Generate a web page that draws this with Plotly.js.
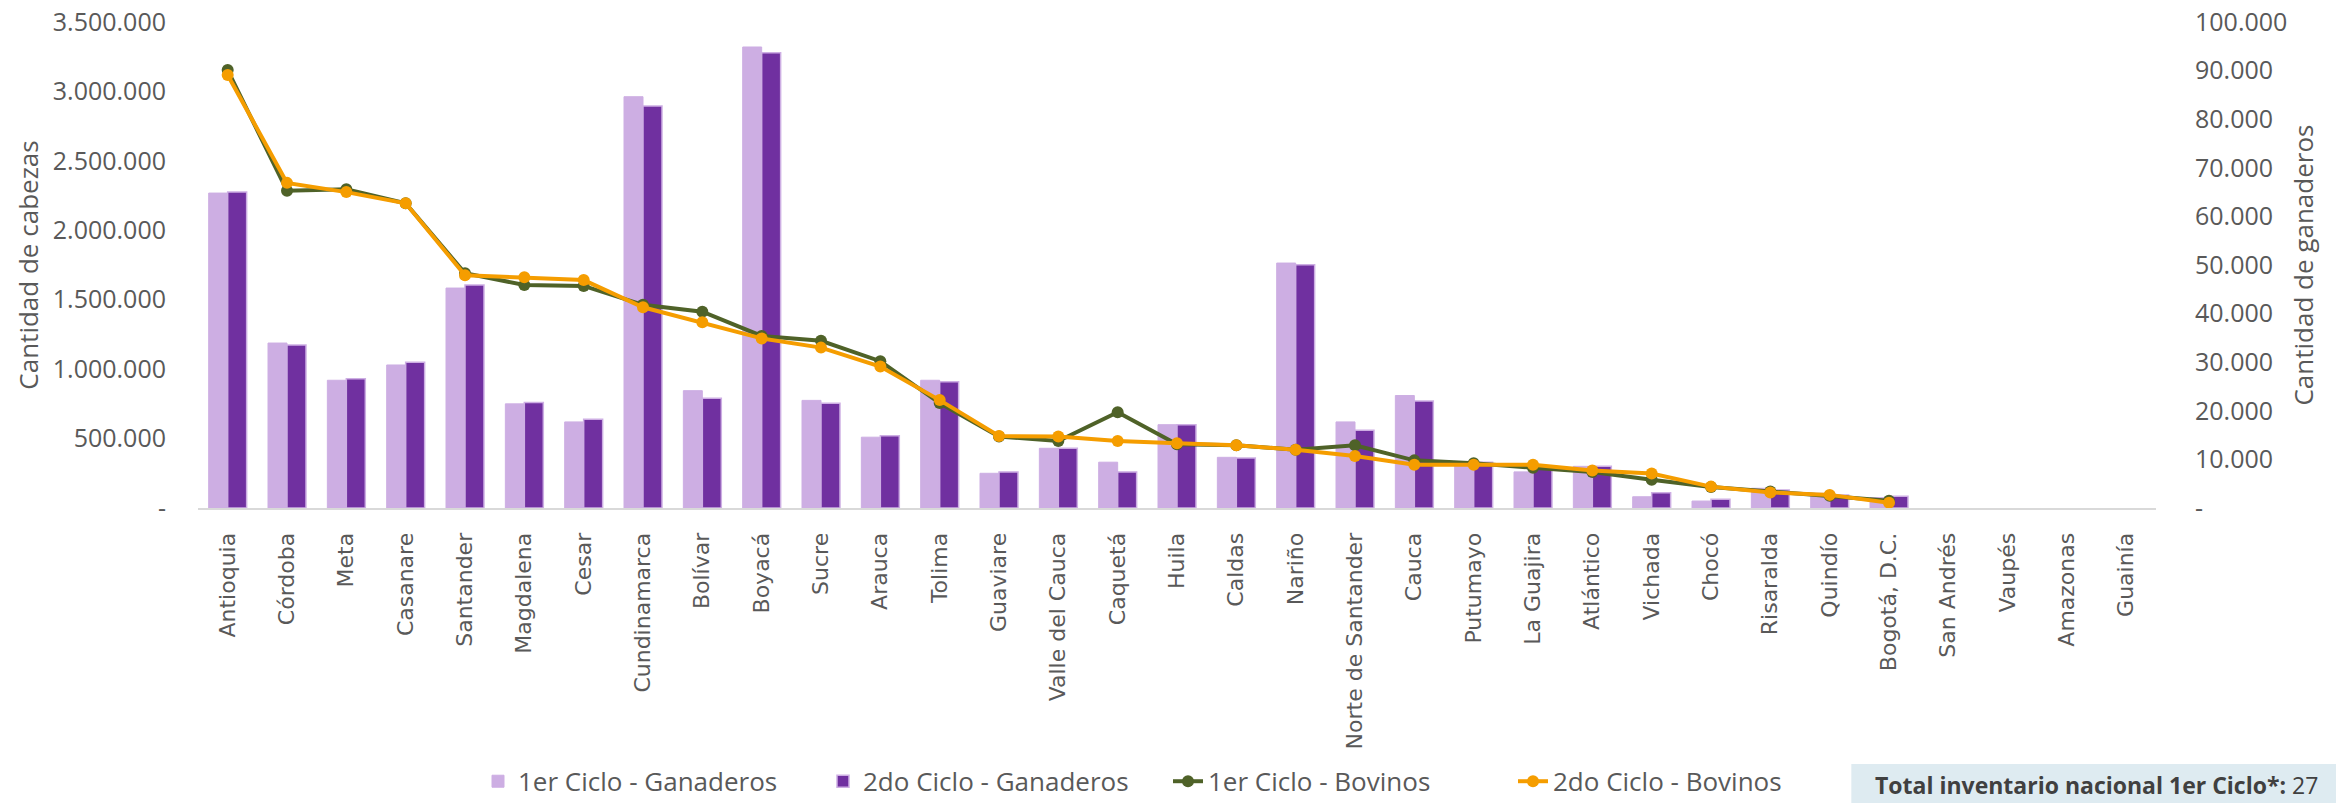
<!DOCTYPE html>
<html>
<head>
<meta charset="utf-8">
<script src="https://cdn.plot.ly/plotly-3.0.1.min.js"></script>
<style>html,body{margin:0;padding:0;background:#fff;}#chart{width:2336px;height:803px;}</style>
</head>
<body>
<div id="chart"></div>
<script>
// ---- data ----
const departamentos = ["Antioquia","Córdoba","Meta","Casanare","Santander","Magdalena","Cesar","Cundinamarca","Bolívar","Boyacá","Sucre","Arauca","Tolima","Guaviare","Valle del Cauca","Caquetá","Huila","Caldas","Nariño","Norte de Santander","Cauca","Putumayo","La Guajira","Atlántico","Vichada","Chocó","Risaralda","Quindío","Bogotá, D.C.","San Andrés","Vaupés","Amazonas","Guainía"];

const ciclo1Ganaderos = [2268000,1188000,920000,1030000,1584000,750000,620000,2962000,845000,3320000,775000,510000,920000,250000,430000,330000,600000,365000,1764000,620000,810000,320000,260000,300000,81000,50000,142000,106000,75000,null,null,null,null];
const ciclo2Ganaderos = [2276000,1174000,930000,1050000,1606000,760000,640000,2895000,790000,3279000,755000,520000,910000,260000,430000,260000,600000,360000,1752000,560000,770000,330000,280000,300000,110000,63000,130000,94000,85000,null,null,null,null];

const ciclo1Bovinos = [90100,65300,65600,62700,48300,45900,45700,41800,40400,35400,34400,30200,21600,14700,13800,19700,13100,12900,12000,12900,9800,9200,8300,7400,5800,4300,3400,2500,1500,null,null,null,null];
const ciclo2Bovinos = [89100,66900,65000,62700,47900,47500,46900,41300,38200,34900,33000,29100,22200,14800,14700,13800,13300,12900,12000,10700,8900,8900,8900,7700,7100,4400,3200,2700,1100,null,null,null,null];

const leftTickVals = [0,500000,1000000,1500000,2000000,2500000,3000000,3500000];
const leftTickText = ["-","500.000","1.000.000","1.500.000","2.000.000","2.500.000","3.000.000","3.500.000"];
const rightTickVals = [0,10000,20000,30000,40000,50000,60000,70000,80000,90000,100000];
const rightTickText = ["-","10.000","20.000","30.000","40.000","50.000","60.000","70.000","80.000","90.000","100.000"];

const serieNombres = ["1er Ciclo - Ganaderos","2do Ciclo - Ganaderos","1er Ciclo - Bovinos","2do Ciclo - Bovinos"];
const textoTotal = "<b>Total inventario nacional 1er Ciclo*:</b> 27";

// ---- chart ----
const gray = "#595959";
const sans = "Open Sans, Noto Sans, sans-serif";

const traces = [
  {type:"bar", name:serieNombres[0], x:departamentos, y:ciclo1Ganaderos,
   marker:{color:"#cdaee3", line:{color:"#cdaee3", width:1}}, yaxis:"y"},
  {type:"bar", name:serieNombres[1], x:departamentos, y:ciclo2Ganaderos,
   marker:{color:"#7030a0", line:{color:"#cdaee3", width:1.5}}, yaxis:"y"},
  {type:"scatter", mode:"lines+markers", name:serieNombres[2], x:departamentos, y:ciclo1Bovinos,
   line:{color:"#4f6228", width:4}, marker:{color:"#4f6228", size:12}, yaxis:"y2", connectgaps:false},
  {type:"scatter", mode:"lines+markers", name:serieNombres[3], x:departamentos, y:ciclo2Bovinos,
   line:{color:"#f59d00", width:4}, marker:{color:"#f59d00", size:12}, yaxis:"y2", connectgaps:false}
];

const layout = {
  width:2336, height:803,
  margin:{l:198, r:180, t:22, b:295, autoexpand:false},
  paper_bgcolor:"#ffffff", plot_bgcolor:"#ffffff",
  barmode:"group", bargap:0.36, bargroupgap:0,
  showlegend:true,
  font:{family:sans, color:gray, size:25},
  xaxis:{type:"category", range:[-0.5, departamentos.length - 0.5], autorange:false,
         showline:true, linecolor:"#d9d9d9", linewidth:2, ticks:"",
         tickangle:-90, showgrid:false, zeroline:false, automargin:false,
         ticklabelstandoff:14,
         tickfont:{family:"DejaVu Sans, sans-serif", size:22, color:gray}},
  yaxis:{range:[0,3500000], tickmode:"array", tickvals:leftTickVals, ticktext:leftTickText,
         showgrid:false, zeroline:false, showline:false, ticks:"", automargin:false,
         ticklabelstandoff:31,
         tickfont:{family:sans, size:25, color:gray},
         title:{text:"Cantidad de cabezas", font:{family:sans, size:26, color:gray}, standoff:6}},
  yaxis2:{range:[0,100000], overlaying:"y", side:"right", tickmode:"array",
          tickvals:rightTickVals, ticktext:rightTickText,
          showgrid:false, zeroline:false, showline:false, ticks:"", automargin:false,
          ticklabelstandoff:38,
          tickfont:{family:sans, size:25, color:gray},
          title:{text:"Cantidad de ganaderos", font:{family:sans, size:26, color:gray}, standoff:8}},
  legend:{orientation:"h", xref:"container", yref:"container", x:0.5, xanchor:"center",
          y:0.027, yanchor:"middle", font:{family:sans, size:26, color:gray},
          entrywidth:300, entrywidthmode:"pixels",
          bgcolor:"rgba(0,0,0,0)", traceorder:"normal"},
  shapes:[{type:"rect", xref:"paper", yref:"paper", x0:0.8444, x1:1.1, y0:-0.65, y1:-0.527,
           fillcolor:"#deebf1", line:{width:0}, layer:"below"}],
  annotations:[{
    xref:"paper", yref:"paper", x:0.8557, y:-0.570, xanchor:"left", yanchor:"middle",
    text:textoTotal, showarrow:false, align:"left",
    font:{family:sans, size:23, color:"#404040"}
  }]
};

Plotly.newPlot("chart", traces, layout, {displayModeBar:false, staticPlot:true});
</script>
</body>
</html>
